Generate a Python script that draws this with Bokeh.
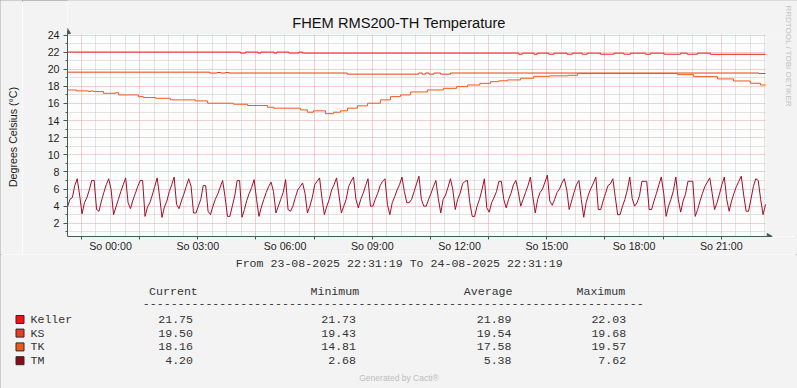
import math
import numpy as np
from bokeh.plotting import figure
from bokeh.layouts import column, row
from bokeh.models import FixedTicker, Range1d
from bokeh.core.properties import value
from bokeh.embed import file_html
from bokeh.resources import INLINE

TITLE = "FHEM RMS200-TH Temperature"
Y_LABEL = "Degrees Celsius (\u00b0C)"
PERIOD = "From 23-08-2025 22:31:19 To 24-08-2025 22:31:19"
WATERMARK = "RRDTOOL / TOBI OETIKER"
FOOTER = "Generated by Cacti\u00ae"

# hours relative to Sunday 00:00
START_H = -(1 + 28 / 60 + 41 / 3600)
END_H = START_H + 24
TICK_HOURS = [0, 3, 6, 9, 12, 15, 18, 21]
TICK_LABELS = ["So 00:00", "So 03:00", "So 06:00", "So 09:00",
               "So 12:00", "So 15:00", "So 18:00", "So 21:00"]
Y_TICKS = [2, 4, 6, 8, 10, 12, 14, 16, 18, 20, 22, 24]
Y_MIN, Y_MAX = 0.45, 24.08

SERIES = ["Keller", "KS", "TK", "TM"]
LINE_COLORS = ["#EC1C1C", "#EE3C18", "#F05A1A", "#A00E2A"]
BOX_COLORS = ["#F21414", "#E8401E", "#EE5A1C", "#8C0A18"]
HEADERS = ["Current", "Minimum", "Average", "Maximum"]
CURRENT = ["21.75", "19.50", "18.16", "4.20"]
MINIMUM = ["21.73", "19.43", "14.81", "2.68"]
AVERAGE = ["21.89", "19.54", "17.58", "5.38"]
MAXIMUM = ["22.03", "19.68", "19.57", "7.62"]

KELLER_H = [START_H, 4.47, 4.64, 5.07, 5.17, 5.62, 5.72, 6.13, 6.48, 6.60,
            14.04, 14.16, 14.56, 14.67, 15.07, 15.25, 15.70, 15.88, 16.22, 16.39,
            16.85, 17.31, 17.65, 17.88, 18.40, 18.57, 19.03, 19.60, 19.83, 20.18, 20.63]
KELLER_V = [22.01, 21.89, 22.01, 21.89, 22.01, 21.89, 22.01, 21.89, 22.01, 21.89,
            21.76, 21.88, 21.76, 21.88, 21.76, 21.88, 21.76, 21.88, 21.76, 21.88,
            21.76, 21.88, 21.76, 21.88, 21.76, 21.88, 21.76, 21.88, 21.76, 21.88, 21.75]

KS_H = [START_H, 3.41, 3.67, 3.79, 3.96, 4.07, 8.14, 10.60, 10.72, 10.83, 10.95,
        11.12, 11.35, 11.69, 22.30]
KS_V = [19.66, 19.56, 19.62, 19.56, 19.62, 19.56, 19.43, 19.56, 19.43, 19.56, 19.43,
        19.56, 19.43, 19.56, 19.50]

TK_H = [START_H, -1.17, -0.76, -0.69, -0.58, -0.24, 0.17, 0.28, 0.96, 1.13, 1.55,
        2.06, 2.92, 3.34, 4.23, 4.71, 5.40, 5.61, 6.53, 6.77, 6.98, 7.39, 7.67,
        7.91, 8.15, 8.49, 8.84, 9.28, 9.63, 9.97, 10.32, 10.90, 11.45, 11.90, 12.28,
        12.70, 13.07, 13.35, 13.65, 14.10, 14.55, 15.10, 15.72, 16.06, 19.50, 20.05,
        20.87, 21.42, 22.00, 22.35]
TK_V = [17.58, 17.47, 17.39, 17.47, 17.39, 17.19, 17.25, 17.00, 16.80, 16.69, 16.61,
        16.42, 16.30, 16.03, 15.91, 15.76, 15.56, 15.45, 15.25, 14.98, 15.14, 14.81, 14.98,
        15.14, 15.45, 15.72, 16.03, 16.42, 16.80, 17.00, 17.35, 17.58, 17.77, 17.97, 18.16,
        18.35, 18.55, 18.65, 18.75, 18.95, 19.17, 19.23, 19.29, 19.50, 19.37, 19.14,
        18.87, 18.63, 18.36, 18.16]

# 5-minute samples, 23-08 22:31:19 .. 24-08 22:31:19
TM_V = [
    3.9, 4.8, 5.0, 6.4, 7.2,
    5.3, 3.1, 4.4, 5.0, 5.9, 7.0, 7.0,
    3.6, 3.4, 4.6, 5.6, 6.5, 7.2,
    5.9, 3.0, 3.9, 4.8, 5.7, 6.5, 7.3,
    4.4, 3.7, 4.7, 5.5, 6.3, 7.0, 7.0,
    2.8, 3.9, 4.4, 5.3, 6.3, 7.3,
    5.1, 2.68, 3.9, 4.6, 5.7, 6.5, 7.4,
    4.2, 3.7, 4.6, 5.4, 6.3, 7.2,
    6.3, 3.2, 3.2, 4.0, 4.8, 6.4, 6.4,
    3.4, 3.0, 4.0, 4.8, 5.4, 6.2, 7.0,
    5.1, 2.8, 2.8, 4.0, 5.2, 7.0, 7.0,
    2.7, 3.6, 4.7, 5.5, 6.2, 7.1,
    4.8, 2.8, 3.9, 4.8, 5.6, 6.3, 6.8,
    5.7, 3.2, 4.0, 4.8, 5.6, 7.1,
    3.6, 3.4, 4.0, 5.0, 5.9, 6.3, 6.7,
    5.5, 3.2, 4.0, 5.0, 6.5, 6.9, 7.3,
    4.9, 3.0, 4.0, 4.8, 5.9, 6.5, 7.3,
    5.3, 3.2, 4.0, 4.8, 6.3, 6.9, 7.4,
    4.8, 3.8, 4.8, 5.5, 6.4, 7.2,
    4.0, 4.0, 4.8, 5.5, 6.4, 6.9, 7.2,
    4.2, 3.0, 4.4, 5.1, 5.9, 6.5, 7.4,
    5.7, 4.4, 4.4, 4.8, 5.7, 6.6, 7.5,
    4.8, 4.0, 4.0, 4.8, 5.5, 6.3, 7.0,
    4.9, 3.2, 4.8, 5.3, 6.2, 7.2,
    5.9, 3.6, 4.8, 5.5, 6.6, 6.9, 7.0,
    4.4, 2.8, 2.8, 4.0, 4.8, 5.9, 7.2,
    3.8, 3.3, 4.4, 5.0, 5.7, 6.9, 6.9,
    4.8, 3.8, 4.8, 5.5, 6.5, 7.0,
    5.7, 4.0, 4.8, 5.6, 6.4, 7.4,
    5.1, 3.2, 4.8, 5.6, 6.0, 6.8, 7.62,
    4.6, 4.1, 4.8, 5.6, 6.0, 6.7, 7.2,
    5.9, 3.6, 4.6, 5.6, 6.5, 7.0,
    4.8, 2.7, 4.4, 5.4, 6.1, 6.7, 7.4,
    3.6, 3.6, 4.6, 5.5, 6.4, 6.6, 7.2,
    5.1, 3.0, 3.0, 4.0, 4.8, 5.9, 7.4,
    4.9, 4.0, 4.4, 5.2, 6.9, 6.9, 6.9,
    3.6, 3.6, 4.6, 5.5, 6.5, 7.4,
    5.5, 2.8, 4.0, 4.8, 5.8, 7.4,
    4.8, 3.3, 4.6, 5.4, 6.9, 6.9, 6.9,
    2.8, 3.6, 4.6, 5.5, 6.3, 6.8, 7.3,
    5.5, 3.6, 4.4, 5.4, 6.5, 7.4,
    4.8, 3.4, 4.6, 5.5, 6.3, 6.9, 7.5,
    5.3, 3.4, 3.4, 4.8, 6.3, 7.2, 7.0,
    4.8, 3.0, 4.2,
]

AXIS_COLOR = "#3F5F52"
GRID_COLOR = "#C8C8C8"
MGRID_COLOR = "#E9A2A2"
TEXT_COLOR = "#1E1E1E"
LEG_COLOR = "#333333"
BACK = "#F3F3F3"
CANVAS = "#FDFDFD"
FRAME_EDGE = "#A9A9A9"
SANS = "Liberation Sans"
MONO = "Liberation Mono"

W = 797
LW = 22                 # width of the strip holding the vertical axis title
HA = 254
HB = 388 - HA
FL, FB, FT_DATA = 67, 237, 34          # plot area edges in page pixels
PX_H = (765 - FL) / 24.0
PX_V = (FB - FT_DATA) / (Y_MAX - Y_MIN)


def dx(xp):
    return START_H + (xp - FL) / PX_H


def dy(yp):
    return Y_MIN + (FB - yp) / PX_V


# ---------------- vertical axis title strip ----------------
lab = figure(width=LW, height=HA, output_backend="svg", toolbar_location=None,
             x_range=Range1d(0, LW), y_range=Range1d(HA, 0),
             x_axis_type=None, y_axis_type=None, min_border=0)
lab.frame_align = False
lab.grid.visible = False
lab.outline_line_color = None
lab.background_fill_color = BACK
lab.border_fill_color = BACK
lab.text(x=[12.5], y=[136.5], text=[Y_LABEL], text_font=value(SANS),
         text_font_size="10.67px", text_align="center", text_baseline="middle",
         text_color=TEXT_COLOR, angle=math.pi / 2)

# ---------------- main graph ----------------
p = figure(width=W - LW, height=HA, output_backend="svg", toolbar_location=None,
           x_range=Range1d(START_H, dx(W)), y_range=Range1d(Y_MIN, dy(0)),
           min_border_left=FL - LW, min_border_right=0, min_border_top=0,
           min_border_bottom=HA - FB)
p.frame_align = False
p.background_fill_color = CANVAS
p.border_fill_color = BACK
p.outline_line_color = None

xa = p.xaxis[0]
xa.ticker = FixedTicker(ticks=TICK_HOURS, minor_ticks=list(range(-1, 23, 2)))
xa.major_label_overrides = {h: s for h, s in zip(TICK_HOURS, TICK_LABELS)}
xa.bounds = (START_H, dx(771))
xa.major_tick_out = 0
xa.major_tick_in = 0
xa.minor_tick_out = 3
xa.minor_tick_in = 0
xa.axis_line_color = AXIS_COLOR
xa.minor_tick_line_color = AXIS_COLOR
xa.major_label_text_font = SANS
xa.major_label_text_font_size = "10.67px"
xa.major_label_text_color = TEXT_COLOR
xa.major_label_standoff = 0

ya = p.yaxis[0]
ya.ticker = FixedTicker(ticks=Y_TICKS, minor_ticks=list(range(1, 25)))
ya.bounds = (Y_MIN, dy(30))
ya.major_tick_out = 4
ya.major_tick_in = 0
ya.minor_tick_out = 2
ya.minor_tick_in = 0
ya.axis_line_color = AXIS_COLOR
ya.major_tick_line_color = AXIS_COLOR
ya.minor_tick_line_color = AXIS_COLOR
ya.major_label_text_font = SANS
ya.major_label_text_font_size = "10.67px"
ya.major_label_text_color = TEXT_COLOR
ya.major_label_standoff = 4

odd_hours = list(range(-1, 23, 2))
minor_x = [h / 2 for h in range(-2, 46) if (h / 2) not in odd_hours]
gx = p.xgrid[0]
gx.ticker = FixedTicker(ticks=odd_hours, minor_ticks=minor_x)
gy = p.ygrid[0]
gy.ticker = FixedTicker(ticks=Y_TICKS, minor_ticks=list(range(1, 25, 2)))
for g in (gx, gy):
    g.grid_line_color = MGRID_COLOR
    g.grid_line_dash = "1 1"
    g.minor_grid_line_color = GRID_COLOR
    g.minor_grid_line_dash = "1 1"

# area outside the graph canvas (above the 24 line and right of the last sample)
p.quad(left=[START_H, END_H], right=[dx(W), dx(W)], bottom=[Y_MAX, Y_MIN],
       top=[dy(0), Y_MAX], fill_color=BACK, line_color=None)

# data lines
p.step(KELLER_H + [END_H], KELLER_V + [KELLER_V[-1]], mode="after",
       line_color=LINE_COLORS[0], line_width=1)
p.step(KS_H + [END_H], KS_V + [KS_V[-1]], mode="after",
       line_color=LINE_COLORS[1], line_width=1)
p.step(TK_H + [END_H], TK_V + [TK_V[-1]], mode="after",
       line_color=LINE_COLORS[2], line_width=1)
tm_x = START_H + np.arange(len(TM_V)) * (24.0 / (len(TM_V) - 1))
p.line(tm_x, TM_V, line_color=LINE_COLORS[3], line_width=1)

# axis arrow heads
p.scatter([START_H], [dy(31.5)], marker="triangle", size=6, fill_color=AXIS_COLOR,
          line_color=AXIS_COLOR)
p.scatter([dx(768.5)], [Y_MIN], marker="triangle", angle=-math.pi / 2, size=6,
          fill_color=AXIS_COLOR, line_color=AXIS_COLOR)

p.text(x=[dx(398.5)], y=[dy(22.5)], text=[TITLE], text_font=value(SANS),
       text_font_size="14.67px", text_align="center", text_baseline="middle",
       text_color="#111111")
p.text(x=[dx(787.5)], y=[dy(56)], text=[WATERMARK], text_font=value(SANS),
       text_font_size="8px", text_align="center", text_baseline="middle",
       text_color="#C2C2C2", angle=-math.pi / 2)

# ---------------- legend / footer ----------------
q = figure(width=W, height=HB, output_backend="svg", toolbar_location=None,
           x_range=Range1d(0, W), y_range=Range1d(388, HA),
           x_axis_type=None, y_axis_type=None, min_border=0)
q.frame_align = False
q.grid.visible = False
q.outline_line_color = None
q.background_fill_color = BACK
q.border_fill_color = BACK

mono = dict(text_font=value(MONO), text_font_size="11.6px", text_color=LEG_COLOR,
            text_baseline="middle")
q.text(x=[398.7], y=[263], text=[PERIOD], text_align="center", **mono)

hdr_right = [197.3, 358.7, 512.0, 624.7]
val_right = [192.5, 355.5, 511.0, 625.7]
q.text(x=hdr_right, y=[290.7] * 4, text=HEADERS, text_align="right", **mono)
q.text(x=[142.3], y=[303.3], text=["-" * 72], text_align="left", **mono)

row_y = [319.0, 332.6, 346.4, 360.2]
q.rect(x=[19.5] * 4, y=row_y, width=8, height=8, fill_color=BOX_COLORS,
       line_color="#2A2A2A", line_width=1)
q.text(x=[30] * 4, y=row_y, text=SERIES, text_align="left", **mono)
for cx, col in zip(val_right, (CURRENT, MINIMUM, AVERAGE, MAXIMUM)):
    q.text(x=[cx] * 4, y=row_y, text=col, text_align="right", **mono)

q.text(x=[398.5], y=[377], text=[FOOTER], text_font=value(SANS), text_font_size="8.5px",
       text_align="center", text_baseline="middle", text_color="#BDBDBD")

layout = column(row(lab, p, spacing=0), q, spacing=0,
                styles={"outline": f"2px solid {FRAME_EDGE}", "outline-offset": "-2px"})
open("out.html", "w").write(file_html(layout, INLINE))
